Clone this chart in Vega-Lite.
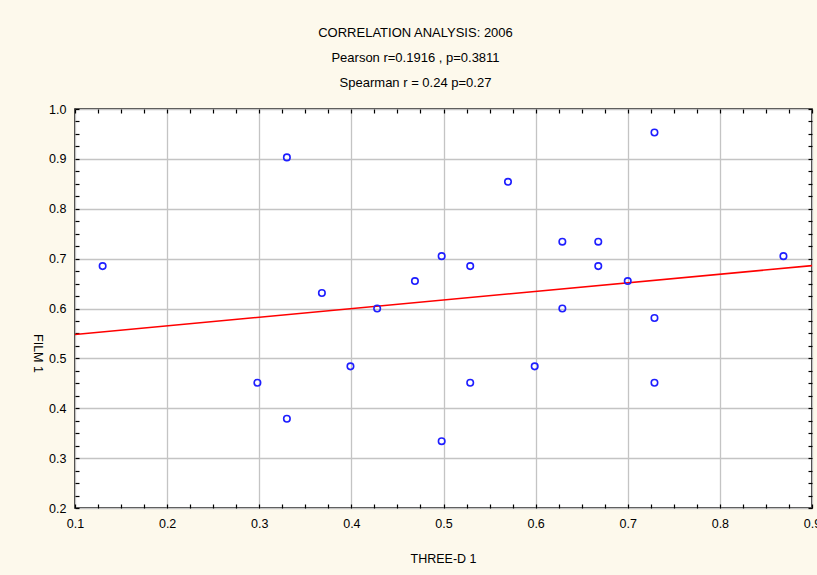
{
  "$schema": "https://vega.github.io/schema/vega-lite/v6.json",
  "width": 737,
  "height": 399,
  "autosize": "none",
  "padding": {"left": 75, "top": 109, "right": 5, "bottom": 67},
  "background": "#FDF9EC",
  "config": {
    "view": {"fill": "white", "stroke": "black", "strokeWidth": 1.5},
    "font": "Liberation Sans, Arial, sans-serif"
  },
  "title": {
    "text": ["CORRELATION ANALYSIS: 2006", "Pearson  r=0.1916 , p=0.3811", "Spearman r = 0.24 p=0.27"],
    "anchor": "middle",
    "dx": -28,
    "offset": 13,
    "lineHeight": 25,
    "fontSize": 13,
    "fontWeight": "normal",
    "color": "black",
    "font": "Liberation Sans, Arial, sans-serif"
  },
  "datasets": {
    "points": [
      {"x": 0.13, "y": 0.685},
      {"x": 0.33, "y": 0.903},
      {"x": 0.368, "y": 0.631},
      {"x": 0.428, "y": 0.6},
      {"x": 0.469, "y": 0.655},
      {"x": 0.498, "y": 0.705},
      {"x": 0.529, "y": 0.685},
      {"x": 0.57, "y": 0.854},
      {"x": 0.629, "y": 0.734},
      {"x": 0.668, "y": 0.734},
      {"x": 0.668, "y": 0.685},
      {"x": 0.7, "y": 0.655},
      {"x": 0.729, "y": 0.953},
      {"x": 0.869, "y": 0.705},
      {"x": 0.629, "y": 0.6},
      {"x": 0.729, "y": 0.581},
      {"x": 0.599, "y": 0.484},
      {"x": 0.529, "y": 0.451},
      {"x": 0.729, "y": 0.451},
      {"x": 0.498, "y": 0.334},
      {"x": 0.298, "y": 0.451},
      {"x": 0.33, "y": 0.379},
      {"x": 0.399, "y": 0.484}
    ],
    "fit": [
      {"x": 0.1, "y": 0.548},
      {"x": 0.9, "y": 0.686}
    ]
  },
  "resolve": {"axis": {"x": "independent", "y": "independent"}},
  "layer": [
    {
      "data": {"name": "points"},
      "mark": {"type": "point", "opacity": 0},
      "encoding": {
        "x": {"field": "x", "type": "quantitative",
          "scale": {"domain": [0.1, 0.9], "nice": false, "zero": false},
          "axis": {"orient": "top", "values": [0.1,0.125,0.15,0.175,0.2,0.225,0.25,0.275,0.3,0.325,0.35,0.375,0.4,0.425,0.45,0.475,0.5,0.525,0.55,0.575,0.6,0.625,0.65,0.675,0.7,0.725,0.75,0.775,0.8,0.825,0.85,0.875,0.9],
            "labels": false, "grid": false, "domain": false, "title": null, "tickSize": -4, "tickColor": "black", "tickWidth": 1.2}},
        "y": {"field": "y", "type": "quantitative",
          "scale": {"domain": [0.2, 1.0], "nice": false, "zero": false},
          "axis": {"orient": "right", "values": [0.2,0.225,0.25,0.275,0.3,0.325,0.35,0.375,0.4,0.425,0.45,0.475,0.5,0.525,0.55,0.575,0.6,0.625,0.65,0.675,0.7,0.725,0.75,0.775,0.8,0.825,0.85,0.875,0.9,0.925,0.95,0.975,1.0],
            "labels": false, "grid": false, "domain": false, "title": null, "tickSize": -4, "tickColor": "black", "tickWidth": 1.2}}
      }
    },
    {
      "data": {"name": "points"},
      "mark": {"type": "point", "opacity": 0},
      "encoding": {
        "x": {"field": "x", "type": "quantitative",
          "axis": {"orient": "bottom", "values": [0.1,0.2,0.3,0.4,0.5,0.6,0.7,0.8,0.9], "format": ".1f",
            "grid": true, "gridColor": "#c4c4c4", "gridWidth": 1.3, "ticks": false, "domain": false,
            "labelPadding": 9, "labelFontSize": 12.5, "labelColor": "black", "labelFlush": false, "labelOverlap": false,
            "title": "THREE-D 1", "titleFontSize": 12.5, "titleFontWeight": "normal", "titleColor": "black",
            "titleBaseline": "middle", "titleY": 50, "titleX": 368}},
        "y": {"field": "y", "type": "quantitative",
          "axis": {"orient": "left", "values": [0.2,0.3,0.4,0.5,0.6,0.7,0.8,0.9,1.0], "format": ".1f",
            "grid": true, "gridColor": "#c4c4c4", "gridWidth": 1.3, "ticks": false, "domain": false,
            "labelPadding": 9, "labelFontSize": 12.5, "labelColor": "black", "labelFlush": false, "labelOverlap": false,
            "title": "FILM 1", "titleFontSize": 12.5, "titleFontWeight": "normal", "titleColor": "black",
            "titleAngle": 90, "titleBaseline": "middle", "titleAlign": "center", "titleX": -38, "titleY": 244}}
      }
    },
    {
      "data": {"name": "fit"},
      "mark": {"type": "line", "color": "#FF0000", "strokeWidth": 1.6},
      "encoding": {
        "x": {"field": "x", "type": "quantitative",
          "axis": {"orient": "bottom", "values": [0.1,0.125,0.15,0.175,0.2,0.225,0.25,0.275,0.3,0.325,0.35,0.375,0.4,0.425,0.45,0.475,0.5,0.525,0.55,0.575,0.6,0.625,0.65,0.675,0.7,0.725,0.75,0.775,0.8,0.825,0.85,0.875,0.9],
            "labels": false, "grid": false, "domain": false, "title": null, "tickSize": -4, "tickColor": "black", "tickWidth": 1.2}},
        "y": {"field": "y", "type": "quantitative",
          "axis": {"orient": "left", "values": [0.2,0.225,0.25,0.275,0.3,0.325,0.35,0.375,0.4,0.425,0.45,0.475,0.5,0.525,0.55,0.575,0.6,0.625,0.65,0.675,0.7,0.725,0.75,0.775,0.8,0.825,0.85,0.875,0.9,0.925,0.95,0.975,1.0],
            "labels": false, "grid": false, "domain": false, "title": null, "tickSize": -4, "tickColor": "black", "tickWidth": 1.2}}
      }
    },
    {
      "data": {"name": "points"},
      "mark": {"type": "point", "shape": "circle", "filled": false, "color": "#1E1EFF", "size": 42, "strokeWidth": 1.6, "opacity": 1},
      "encoding": {
        "x": {"field": "x", "type": "quantitative", "axis": null},
        "y": {"field": "y", "type": "quantitative", "axis": null}
      }
    }
  ]
}
